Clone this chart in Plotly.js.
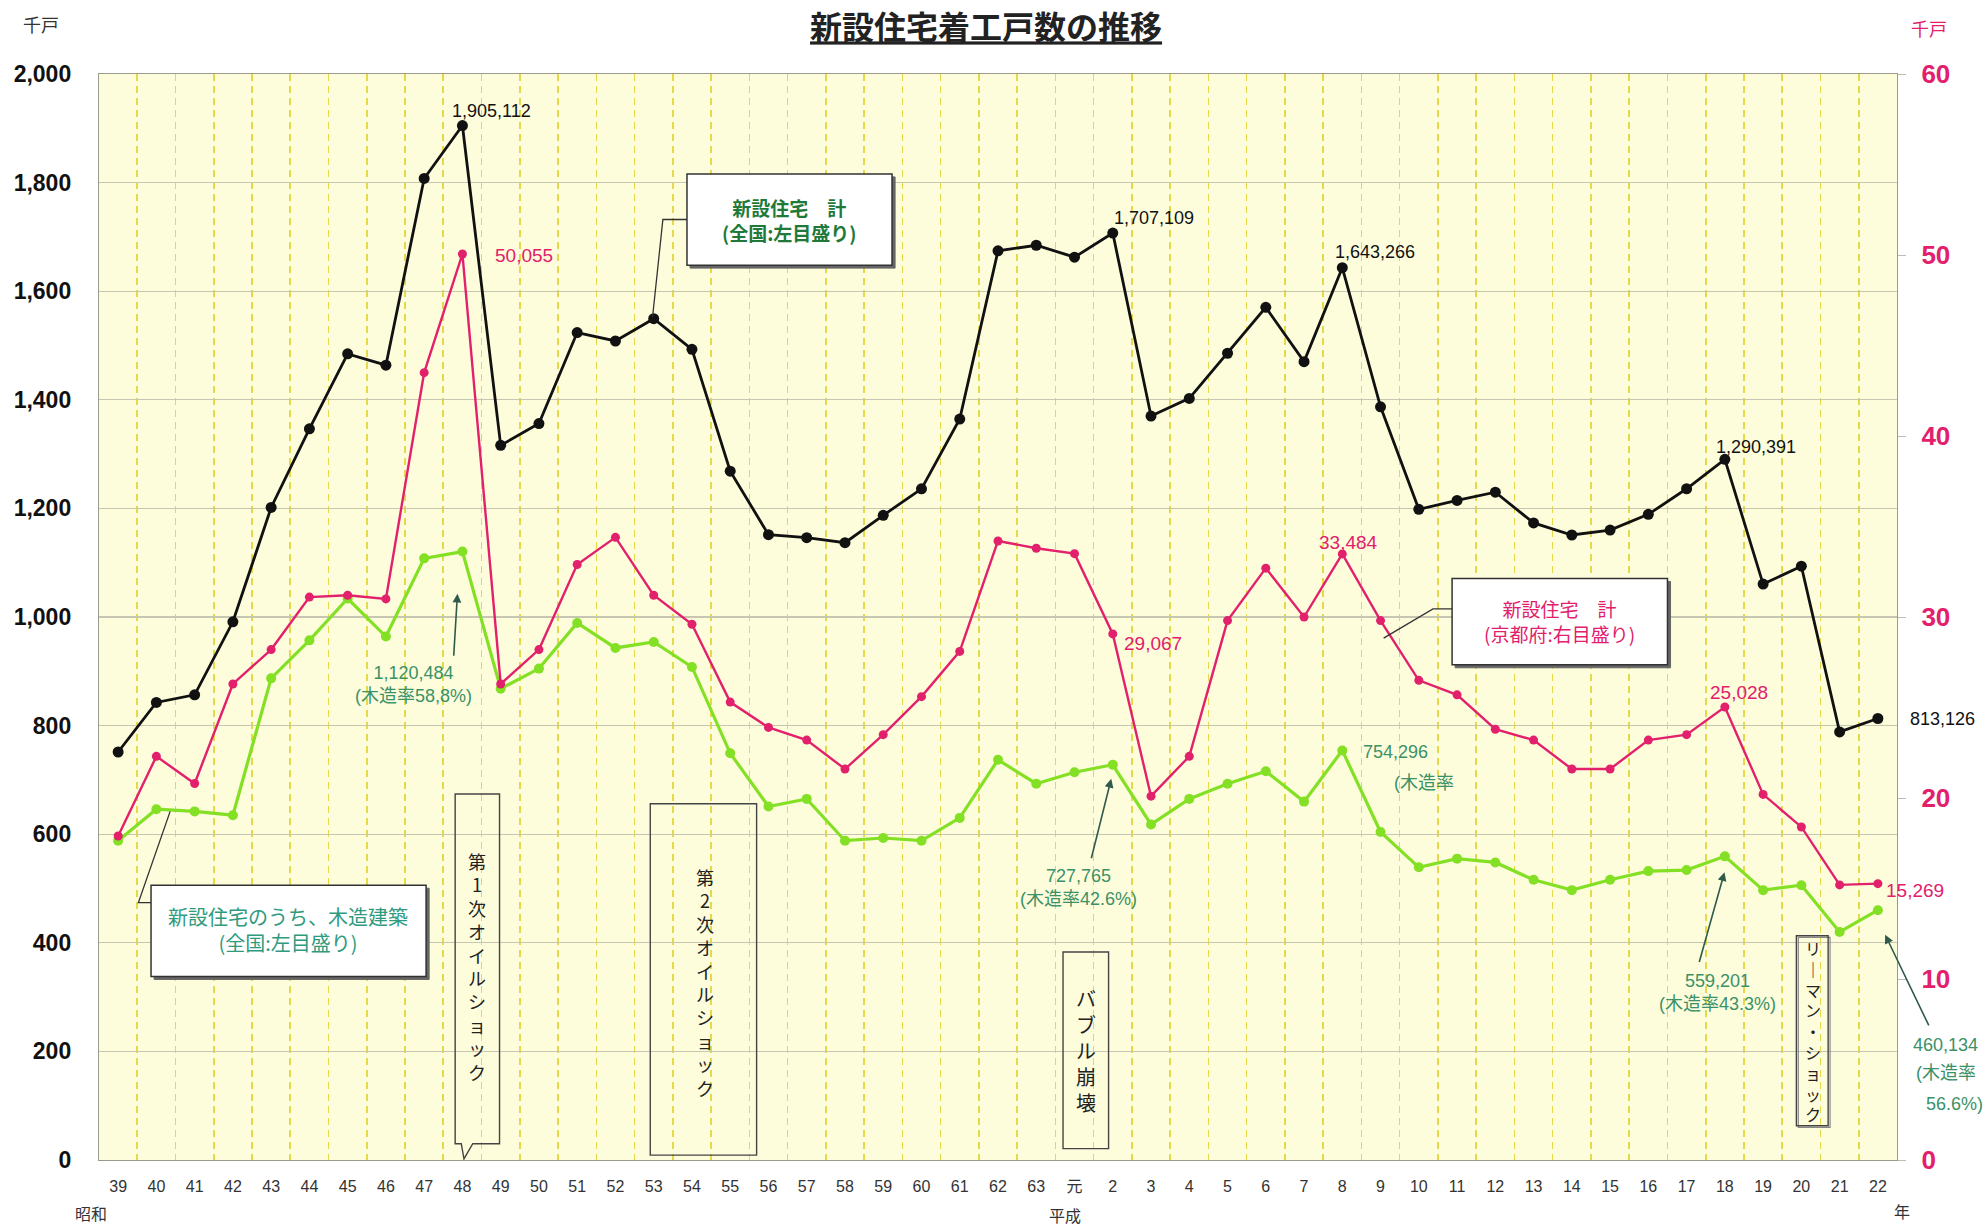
<!DOCTYPE html>
<html>
<head>
<meta charset="utf-8">
<script src="https://cdn.plot.ly/plotly-3.0.1.min.js"></script>
<style>
  html, body { margin: 0; padding: 0; background: #ffffff; }
  #chart { width: 1988px; height: 1227px; }
</style>
</head>
<body>
<div id="chart"></div>
<script>
// ---- data (千戸) ----
const categories = ['39','40','41','42','43','44','45','46','47','48','49','50','51','52','53','54','55','56','57','58','59','60','61','62','63',
                    '元','2','3','4','5','6','7','8','9','10','11','12','13','14','15','16','17','18','19','20','21','22'];
// 新設住宅 計（全国：左目盛り）
const nationalTotal = [751.4, 842.6, 856.6, 991.2, 1201.7, 1346.6, 1484.7, 1463.8, 1807.6, 1905.1,
                       1316.1, 1356.3, 1523.8, 1508.3, 1549.4, 1493.0, 1268.6, 1151.7, 1146.1, 1136.8,
                       1187.3, 1236.1, 1364.6, 1674.3, 1684.6,
                       1662.6, 1707.1, 1370.1, 1402.6, 1485.7, 1570.3, 1470.3, 1643.3, 1387.0, 1198.3,
                       1214.6, 1229.8, 1173.2, 1151.0, 1160.1, 1189.0, 1236.2, 1290.4, 1060.7, 1093.5,
                       788.4, 813.1];
// 新設住宅のうち、木造建築（全国：左目盛り）
const nationalWooden = [588, 646, 642, 635, 887, 957, 1034, 964, 1108, 1120.5,
                        868, 905, 989, 943, 954, 908, 749, 651, 665, 588,
                        593, 588, 630, 737, 693,
                        714, 727.8, 618, 665, 693, 716, 660, 754.3, 604, 539,
                        555, 548, 516, 497, 516, 532, 534, 559.2, 497, 506,
                        420, 460.1];
// 新設住宅 計（京都府：右目盛り）
const kyotoTotal = [17.9, 22.3, 20.8, 26.3, 28.2, 31.1, 31.2, 31.0, 43.5, 50.055,
                    26.3, 28.2, 32.9, 34.4, 31.2, 29.6, 25.3, 23.9, 23.2, 21.6,
                    23.5, 25.6, 28.1, 34.2, 33.8,
                    33.5, 29.067, 20.1, 22.3, 29.8, 32.7, 30.0, 33.484, 29.8, 26.5,
                    25.7, 23.8, 23.2, 21.6, 21.6, 23.2, 23.5, 25.028, 20.2, 18.4,
                    15.2, 15.269];
const leftTicks = [0, 200, 400, 600, 800, 1000, 1200, 1400, 1600, 1800, 2000];
const rightTicks = [0, 10, 20, 30, 40, 50, 60];

// ---- styling ----
const FONT = 'Liberation Sans, Arial, Noto Sans CJK JP, sans-serif';
const JP = 'Noto Sans CJK JP, sans-serif';
const BLACK = '#111111';
const PINK = '#e2206c';
const LIME = '#84e024';
const GREEN_TXT = '#3b9168';
const ARROW = '#2f5a4c';

const xIdx = categories.map((c, i) => i);
const boundaries = categories.slice(1).map((c, i) => i + 0.5);

const traces = [
  { x: xIdx, y: nationalWooden, yaxis: 'y', type: 'scatter', mode: 'lines+markers',
    line: { color: LIME, width: 3.2 }, marker: { color: LIME, size: 10 }, hoverinfo: 'y' },
  { x: xIdx, y: kyotoTotal, yaxis: 'y2', type: 'scatter', mode: 'lines+markers',
    line: { color: PINK, width: 2.4 }, marker: { color: PINK, size: 9 }, hoverinfo: 'y' },
  { x: xIdx, y: nationalTotal, yaxis: 'y', type: 'scatter', mode: 'lines+markers',
    line: { color: BLACK, width: 2.8 }, marker: { color: BLACK, size: 11 }, hoverinfo: 'y' }
];

function vert(s) { return Array.from(s).join('<br>'); }

function txt(x, y, text, color, size, extra) {
  return Object.assign({ x: x, y: y, xref: 'x', yref: 'y', text: text, showarrow: false,
    font: { family: FONT, size: size, color: color }, xanchor: 'center', yanchor: 'middle' }, extra || {});
}
// text outside the plot's x range: x given in paper units
function outTxt(px, y, text, color, size) {
  return { x: px, y: y, xref: 'paper', yref: 'y', text: text, showarrow: false,
    font: { family: FONT, size: size, color: color }, xanchor: 'center', yanchor: 'middle' };
}
function arrow(hx, hy, tx, ty) {
  return { x: hx, y: hy, ax: tx, ay: ty, xref: 'x', yref: 'y', axref: 'x', ayref: 'y',
    text: '', showarrow: true, arrowhead: 2, arrowsize: 1.1, arrowwidth: 1.6, arrowcolor: ARROW };
}
function paperTxt(x, y, text, color, size) {
  return { x: x, y: y, xref: 'paper', yref: 'paper', text: text, showarrow: false,
    font: { family: JP, size: size, color: color }, xanchor: 'center', yanchor: 'middle' };
}

const annotations = [
  // value labels
  txt(9.77, 1932, '1,905,112', BLACK, 18),
  txt(10.60, 1666, '50,055', PINK, 19),
  txt(27.09, 1734, '1,707,109', BLACK, 18),
  txt(32.85, 1673, '1,643,266', BLACK, 18),
  txt(42.81, 1314, '1,290,391', BLACK, 18),
  outTxt(1.0251, 812, '813,126', BLACK, 18),
  txt(32.15, 1137, '33,484', PINK, 19),
  txt(27.05, 952, '29,067', PINK, 19),
  txt(42.38, 861, '25,028', PINK, 19),
  outTxt(1.0102, 497, '15,269', PINK, 19),
  txt(7.72, 875, '1,120,484<br>(木造率58,8%)', GREEN_TXT, 18),
  arrow(8.87, 1043, 8.77, 926),
  txt(25.10, 502, '727,765<br>(木造率42.6%)', GREEN_TXT, 18),
  arrow(25.96, 702, 25.43, 553),
  txt(33.38, 751, '754,296', GREEN_TXT, 18),
  txt(34.14, 695, '(木造率', GREEN_TXT, 18),
  txt(41.82, 308, '559,201<br>(木造率43.3%)', GREEN_TXT, 18),
  arrow(41.99, 530, 41.32, 362),
  outTxt(1.0272, 212, '460,134', GREEN_TXT, 18),
  outTxt(1.0272, 161, '(木造率', GREEN_TXT, 18),
  outTxt(1.0321, 103, '56.6%)', GREEN_TXT, 18),
  arrow(46.19, 415, 47.35, 245),
  // legend boxes text
  txt(17.55, 1732, '<b>新設住宅　計</b><br><b>(全国:左目盛り)</b>', '#1f7a3a', 19, { font: { family: JP, size: 19, color: '#1f7a3a' } }),
  txt(37.68, 992, '新設住宅　計<br>(京都府:右目盛り)', PINK, 19, { font: { family: JP, size: 19, color: PINK } }),
  txt(4.44, 425, '新設住宅のうち、木造建築<br>(全国:左目盛り)', '#2f9a7e', 20, { font: { family: JP, size: 20, color: '#2f9a7e' } }),
  // event boxes text (vertical)
  txt(9.37, 357, vert('第1次オイルショック'), '#222', 18, { font: { family: JP, size: 18, color: '#222' } }),
  txt(15.33, 327, vert('第2次オイルショック'), '#222', 18, { font: { family: JP, size: 18, color: '#222' } }),
  txt(25.30, 201, vert('バブル崩壊'), '#222', 20, { font: { family: JP, size: 20, color: '#222' } }),
  txt(44.30, 238, vert('リ｜マン・ショック'), '#222', 16, { font: { family: JP, size: 16, color: '#222' } }),
  // unit and era labels
  paperTxt(-0.032, 1.0465, '千戸', '#333', 18),
  paperTxt(1.018, 1.0419, '千戸', PINK, 18),
  paperTxt(-0.0044, -0.0488, '昭和', '#333', 16),
  paperTxt(0.537, -0.0506, '平成', '#333', 16),
  paperTxt(1.0028, -0.047, '年', '#333', 16)
];

function rect(x0, x1, y0, y1, fill, lineColor, w) {
  return { type: 'rect', xref: 'x', yref: 'y', x0: x0, x1: x1, y0: y0, y1: y1,
    fillcolor: fill, line: { color: lineColor, width: w }, layer: 'above' };
}
function path(d, color, w) {
  return { type: 'path', xref: 'x', yref: 'y', path: d, line: { color: color, width: w }, layer: 'above' };
}
const sx = 0.08, sy = 5.5; // shadow offset
const shapes = [
  // national total legend box
  rect(14.87 + sx, 20.23 + sx, 1648 - sy, 1816 - sy, '#666', '#666', 1),
  rect(14.87, 20.23, 1648, 1816, '#ffffff', '#333', 1.5),
  path('M 14.87,1732 L 14.24,1732 L 13.97,1552', '#333', 1.3),
  // Kyoto legend box
  rect(34.87 + sx, 40.50 + sx, 912 - sy, 1071 - sy, '#666', '#666', 1),
  rect(34.87, 40.50, 912, 1071, '#ffffff', '#333', 1.5),
  path('M 34.87,1015 L 34.37,1015 L 33.08,961', '#333', 1.3),
  // wooden legend box
  rect(0.86 + sx, 8.05 + sx, 338 - sy, 506 - sy, '#666', '#666', 1),
  rect(0.86, 8.05, 338, 506, '#ffffff', '#333', 1.5),
  path('M 0.86,474 L 0.53,474 L 1.36,642', '#333', 1.3),
  // event boxes
  path('M 8.81,674 L 9.97,674 L 9.97,30 L 9.27,30 L 9.04,2 L 8.97,30 L 8.81,30 Z', '#444', 1.4),
  rect(13.91, 16.69, 9, 656, 'rgba(0,0,0,0)', '#444', 1.4),
  rect(24.70, 25.89, 21, 383, 'rgba(0,0,0,0)', '#444', 1.4),
  rect(43.87 + 0.05, 44.70 + 0.05, 63 - 3, 413 - 3, 'rgba(0,0,0,0)', '#888', 1.2),
  rect(43.87, 44.70, 63, 413, 'rgba(0,0,0,0)', '#444', 1.4)
];

const layout = {
  width: 1988, height: 1227,
  margin: { l: 99, r: 91, t: 74, b: 67 },
  paper_bgcolor: '#ffffff',
  plot_bgcolor: '#fdfddc',
  showlegend: false,
  font: { family: FONT, color: '#222' },
  title: {
    text: '<u>新設住宅着工戸数の推移</u>',
    font: { family: JP, size: 32, weight: 'bold', color: '#222' },
    x: 0.496, xref: 'container', xanchor: 'center',
    y: 0.977, yref: 'container', yanchor: 'middle'
  },
  xaxis: {
    range: [-0.5, categories.length - 0.5],
    tickmode: 'array', tickvals: xIdx, ticktext: categories,
    showgrid: false, zeroline: false,
    showline: true, linecolor: '#9a9a90', linewidth: 1.2, mirror: true,
    ticks: '', ticklabelstandoff: 12,
    tickfont: { family: FONT, size: 16, color: '#333' },
    minor: { tickmode: 'array', tickvals: boundaries, showgrid: true,
             gridcolor: '#e4d948', griddash: '7px,5px', gridwidth: 1.6, ticks: '' },
    fixedrange: true
  },
  yaxis: {
    range: [0, 2000], tickmode: 'array', tickvals: leftTicks, tickformat: ',d',
    showgrid: true, gridcolor: '#c6c6b2', gridwidth: 1.2, zeroline: false,
    showline: true, linecolor: '#9a9a90', linewidth: 1.2,
    ticks: '', ticklabelstandoff: 22,
    tickfont: { family: FONT, size: 23, weight: 'bold', color: '#111' },
    fixedrange: true
  },
  yaxis2: {
    range: [0, 60], tickmode: 'array', tickvals: rightTicks,
    overlaying: 'y', side: 'right', showgrid: false, zeroline: false,
    showline: true, linecolor: '#9a9a90', linewidth: 1.2,
    ticks: 'outside', ticklen: 8, tickcolor: '#bdbdb0', ticklabelstandoff: 10,
    tickfont: { family: FONT, size: 26, weight: 'bold', color: PINK },
    fixedrange: true
  },
  annotations: annotations,
  shapes: shapes
};

Plotly.newPlot('chart', traces, layout, { displayModeBar: false, staticPlot: true });
</script>
</body>
</html>
